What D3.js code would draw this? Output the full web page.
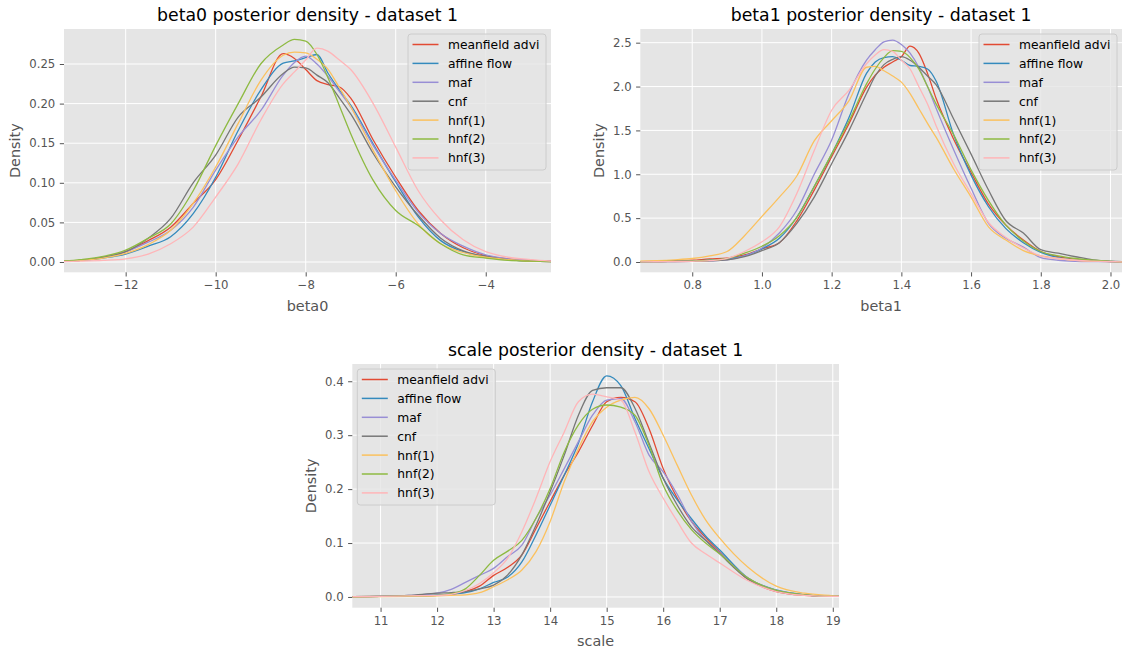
<!DOCTYPE html>
<html lang="en">
<head>
    <meta charset="UTF-8">
    <title>Posterior densities - dataset 1</title>
    <style>
        body { margin: 0; background: #fff; }
        svg text { font-family: "DejaVu Sans", sans-serif; }
    </style>
</head>
<body>
    <svg id="fig" width="1125" height="654"></svg>

    <script src="https://d3js.org/d3.v7.min.js"></script>
    <script>
        // series shared by all three panels
        var seriesNames = ["meanfield advi", "affine flow", "maf", "cnf", "hnf(1)", "hnf(2)", "hnf(3)"];
        var seriesColors = ["#E24A33", "#348ABD", "#988ED5", "#777777", "#FBC15E", "#8EBA42", "#FFB5B8"];

        // beta0 panel
        var beta0X = [-13.4, -13, -12.5, -12, -11.5, -11, -10.5, -10, -9.5, -9, -8.5, -8.25, -8, -7.75, -7.5, -7.25, -7, -6.5, -6, -5.5, -5, -4.5, -4, -3.5, -3, -2.5];
        var beta0Meanfield = [0.001, 0.002, 0.006, 0.013, 0.027, 0.044, 0.074, 0.104, 0.154, 0.208, 0.263, 0.257, 0.243, 0.229, 0.224, 0.221, 0.207, 0.154, 0.107, 0.065, 0.036, 0.018, 0.008, 0.004, 0.002, 0.001];
        var beta0Affine = [0.001, 0.002, 0.005, 0.010, 0.020, 0.032, 0.061, 0.107, 0.166, 0.217, 0.251, 0.254, 0.258, 0.262, 0.238, 0.217, 0.198, 0.149, 0.101, 0.057, 0.027, 0.013, 0.007, 0.003, 0.001, 0.0005];
        var beta0Maf = [0.001, 0.002, 0.006, 0.013, 0.025, 0.040, 0.069, 0.116, 0.158, 0.191, 0.236, 0.252, 0.260, 0.250, 0.234, 0.215, 0.196, 0.147, 0.103, 0.063, 0.036, 0.020, 0.009, 0.004, 0.002, 0.001];
        var beta0Cnf = [0.001, 0.002, 0.006, 0.013, 0.030, 0.055, 0.100, 0.135, 0.183, 0.208, 0.238, 0.246, 0.245, 0.236, 0.226, 0.207, 0.187, 0.137, 0.095, 0.059, 0.030, 0.014, 0.007, 0.003, 0.001, 0.0005];
        var beta0Hnf1 = [0.001, 0.002, 0.005, 0.011, 0.022, 0.040, 0.074, 0.120, 0.175, 0.229, 0.261, 0.265, 0.264, 0.256, 0.243, 0.220, 0.196, 0.141, 0.090, 0.048, 0.023, 0.012, 0.006, 0.003, 0.001, 0.0005];
        var beta0Hnf2 = [0.001, 0.003, 0.007, 0.015, 0.030, 0.048, 0.090, 0.147, 0.200, 0.250, 0.274, 0.281, 0.279, 0.262, 0.232, 0.197, 0.162, 0.103, 0.065, 0.046, 0.023, 0.009, 0.005, 0.002, 0.001, 0.0005];
        var beta0Hnf3 = [0.0005, 0.001, 0.002, 0.004, 0.010, 0.023, 0.044, 0.082, 0.124, 0.179, 0.225, 0.240, 0.255, 0.270, 0.266, 0.255, 0.243, 0.200, 0.145, 0.090, 0.053, 0.028, 0.013, 0.006, 0.003, 0.001];
        var beta0XTicks = [-12, -10, -8, -6, -4];
        var beta0YTicks = [0, 0.05, 0.10, 0.15, 0.20, 0.25];

        // beta1 panel
        var beta1X = [0.65, 0.7, 0.75, 0.8, 0.85, 0.9, 0.95, 1.0, 1.05, 1.1, 1.15, 1.2, 1.25, 1.3, 1.325, 1.35, 1.375, 1.4, 1.425, 1.45, 1.475, 1.5, 1.55, 1.6, 1.65, 1.7, 1.75, 1.8, 1.85, 1.9, 1.95, 2.0, 2.035];
        var beta1Meanfield = [0.005, 0.008, 0.012, 0.02, 0.035, 0.045, 0.08, 0.15, 0.22, 0.47, 0.82, 1.2, 1.58, 1.99, 2.13, 2.22, 2.28, 2.34, 2.46, 2.38, 2.15, 1.86, 1.40, 1.02, 0.66, 0.42, 0.25, 0.12, 0.06, 0.03, 0.015, 0.005, 0.003];
        var beta1Affine = [0.003, 0.005, 0.008, 0.012, 0.02, 0.035, 0.07, 0.15, 0.27, 0.51, 0.86, 1.23, 1.65, 2.15, 2.28, 2.33, 2.34, 2.30, 2.24, 2.23, 2.20, 2.06, 1.45, 0.99, 0.63, 0.38, 0.22, 0.11, 0.05, 0.025, 0.012, 0.005, 0.003];
        var beta1Maf = [0.002, 0.003, 0.005, 0.008, 0.012, 0.025, 0.07, 0.16, 0.33, 0.59, 1.0, 1.39, 1.92, 2.3, 2.42, 2.51, 2.53, 2.48, 2.38, 2.22, 2.0, 1.75, 1.28, 0.84, 0.44, 0.27, 0.17, 0.05, 0.02, 0.008, 0.004, 0.002, 0.001];
        var beta1Cnf = [0.002, 0.003, 0.005, 0.008, 0.012, 0.025, 0.06, 0.13, 0.22, 0.44, 0.74, 1.12, 1.5, 1.92, 2.12, 2.25, 2.31, 2.34, 2.30, 2.22, 2.12, 2.02, 1.63, 1.23, 0.82, 0.47, 0.33, 0.14, 0.10, 0.06, 0.025, 0.01, 0.005];
        var beta1Hnf1 = [0.01, 0.015, 0.025, 0.04, 0.07, 0.12, 0.3, 0.52, 0.74, 0.98, 1.38, 1.61, 1.84, 2.22, 2.23, 2.18, 2.12, 2.05, 1.92, 1.75, 1.58, 1.42, 1.06, 0.74, 0.40, 0.25, 0.13, 0.07, 0.04, 0.02, 0.01, 0.005, 0.003];
        var beta1Hnf2 = [0.003, 0.005, 0.008, 0.012, 0.02, 0.04, 0.1, 0.18, 0.30, 0.51, 0.86, 1.23, 1.61, 2.03, 2.2, 2.33, 2.41, 2.40, 2.33, 2.2, 2.0, 1.8, 1.45, 1.05, 0.7, 0.42, 0.24, 0.12, 0.07, 0.04, 0.02, 0.008, 0.004];
        var beta1Hnf3 = [0.002, 0.003, 0.005, 0.008, 0.015, 0.04, 0.12, 0.23, 0.40, 0.78, 1.27, 1.73, 1.96, 2.26, 2.36, 2.42, 2.40, 2.30, 2.20, 2.0, 1.8, 1.55, 1.12, 0.78, 0.45, 0.28, 0.16, 0.07, 0.04, 0.02, 0.01, 0.004, 0.002];
        var beta1XTicks = [0.8, 1.0, 1.2, 1.4, 1.6, 1.8, 2.0];
        var beta1YTicks = [0, 0.5, 1.0, 1.5, 2.0, 2.5];

        // scale panel
        var scaleX = [10.5, 11, 11.5, 12, 12.25, 12.5, 12.75, 13, 13.25, 13.5, 13.75, 14, 14.25, 14.5, 14.75, 15, 15.25, 15.5, 15.75, 16, 16.25, 16.5, 16.75, 17, 17.5, 18, 18.5, 19, 19.11];
        var scaleMeanfield = [0.0005, 0.001, 0.002, 0.003, 0.005, 0.01, 0.02, 0.04, 0.055, 0.078, 0.127, 0.177, 0.226, 0.269, 0.318, 0.362, 0.370, 0.362, 0.312, 0.238, 0.183, 0.140, 0.110, 0.083, 0.033, 0.010, 0.003, 0.001, 0.001];
        var scaleAffine = [0.0005, 0.001, 0.002, 0.004, 0.005, 0.008, 0.015, 0.027, 0.037, 0.065, 0.115, 0.170, 0.226, 0.285, 0.362, 0.410, 0.392, 0.331, 0.275, 0.220, 0.180, 0.145, 0.113, 0.087, 0.035, 0.013, 0.004, 0.001, 0.001];
        var scaleMaf = [0.0005, 0.001, 0.003, 0.007, 0.014, 0.027, 0.040, 0.053, 0.075, 0.096, 0.146, 0.189, 0.238, 0.288, 0.337, 0.365, 0.368, 0.325, 0.263, 0.232, 0.190, 0.140, 0.105, 0.082, 0.035, 0.012, 0.004, 0.001, 0.001];
        var scaleCnf = [0.0005, 0.001, 0.003, 0.007, 0.008, 0.010, 0.015, 0.022, 0.041, 0.078, 0.133, 0.195, 0.263, 0.337, 0.383, 0.388, 0.388, 0.350, 0.285, 0.220, 0.170, 0.130, 0.105, 0.080, 0.033, 0.011, 0.004, 0.001, 0.001];
        var scaleHnf1 = [0.0003, 0.0005, 0.001, 0.002, 0.003, 0.004, 0.008, 0.019, 0.032, 0.050, 0.084, 0.140, 0.214, 0.275, 0.325, 0.352, 0.365, 0.370, 0.349, 0.300, 0.244, 0.189, 0.143, 0.109, 0.055, 0.020, 0.007, 0.002, 0.001];
        var scaleHnf2 = [0.0005, 0.001, 0.002, 0.003, 0.006, 0.015, 0.040, 0.068, 0.085, 0.105, 0.146, 0.201, 0.269, 0.319, 0.348, 0.356, 0.352, 0.337, 0.281, 0.207, 0.160, 0.125, 0.100, 0.080, 0.035, 0.012, 0.004, 0.001, 0.001];
        var scaleHnf3 = [0.0005, 0.001, 0.002, 0.003, 0.005, 0.012, 0.025, 0.045, 0.072, 0.121, 0.183, 0.251, 0.306, 0.362, 0.376, 0.371, 0.365, 0.306, 0.232, 0.183, 0.140, 0.100, 0.080, 0.063, 0.030, 0.010, 0.003, 0.001, 0.001];
        var scaleXTicks = [11, 12, 13, 14, 15, 16, 17, 18, 19];
        var scaleYTicks = [0, 0.1, 0.2, 0.3, 0.4];

        var svg = d3.select("#fig");
        var tickColor = "#555555";

        function drawPanel(p) {
            var x = d3.scaleLinear().domain(p.xlim).range([p.left, p.right]);
            var y = d3.scaleLinear().domain(p.ylim).range([p.bottom, p.top]);
            var g = svg.append("g");

            g.append("rect")
                .attr("x", p.left).attr("y", p.top)
                .attr("width", p.right - p.left).attr("height", p.bottom - p.top)
                .attr("fill", "#E5E5E5");

            // grid
            g.selectAll(".vgrid").data(p.xticks).enter().append("line")
                .attr("x1", function(d) { return x(d); }).attr("x2", function(d) { return x(d); })
                .attr("y1", p.top).attr("y2", p.bottom)
                .attr("stroke", "#fff").attr("stroke-width", 1);
            g.selectAll(".hgrid").data(p.yticks).enter().append("line")
                .attr("y1", function(d) { return y(d); }).attr("y2", function(d) { return y(d); })
                .attr("x1", p.left).attr("x2", p.right)
                .attr("stroke", "#fff").attr("stroke-width", 1);

            // axes (outward ticks, matplotlib style)
            var xAxis = g.append("g").attr("transform", "translate(0," + p.bottom + ")")
                .call(d3.axisBottom(x).tickValues(p.xticks).tickFormat(p.xfmt).tickSize(4.2).tickPadding(4.5));
            var yAxis = g.append("g").attr("transform", "translate(" + p.left + ",0)")
                .call(d3.axisLeft(y).tickValues(p.yticks).tickFormat(p.yfmt).tickSize(4.2).tickPadding(4.5));
            [xAxis, yAxis].forEach(function(a) {
                a.select(".domain").remove();
                a.selectAll(".tick line").attr("stroke", tickColor);
                a.selectAll(".tick text").attr("fill", tickColor)
                    .style("font-size", "11.7px").style("font-family", "DejaVu Sans");
            });

            // curves
            var clipId = "clip" + p.id;
            svg.append("clipPath").attr("id", clipId).append("rect")
                .attr("x", p.left).attr("y", p.top)
                .attr("width", p.right - p.left).attr("height", p.bottom - p.top);

            var line = d3.line()
                .x(function(d) { return x(d[0]); })
                .y(function(d) { return y(d[1]); })
                .curve(d3.curveMonotoneX);

            p.series.forEach(function(vals, i) {
                g.append("path")
                    .datum(p.xs.map(function(v, j) { return [v, vals[j]]; }))
                    .attr("clip-path", "url(#" + clipId + ")")
                    .attr("fill", "none")
                    .attr("stroke", seriesColors[i])
                    .attr("stroke-width", 1.3)
                    .attr("d", line);
            });

            // title and labels
            g.append("text")
                .attr("x", (p.left + p.right) / 2).attr("y", p.top - 8.5)
                .attr("text-anchor", "middle")
                .style("font-size", "17.3px").attr("fill", "#000")
                .text(p.title);
            g.append("text")
                .attr("x", (p.left + p.right) / 2).attr("y", p.bottom + 38.5)
                .attr("text-anchor", "middle")
                .style("font-size", "14.4px").attr("fill", tickColor)
                .text(p.xlabel);

            var maxW = 0;
            yAxis.selectAll(".tick text").each(function() {
                maxW = Math.max(maxW, this.getComputedTextLength());
            });
            var lx = p.left - 8.7 - maxW - 9;
            g.append("text")
                .attr("transform", "translate(" + lx + "," + ((p.top + p.bottom) / 2) + ") rotate(-90)")
                .attr("text-anchor", "middle")
                .style("font-size", "14.4px").attr("fill", tickColor)
                .text("Density");

            // legend
            var lw = 138, lh = 136;
            var lx0 = p.legendLeft ? p.left + 5 : p.right - 5 - lw;
            var ly0 = p.top + 5;
            var leg = g.append("g").attr("transform", "translate(" + lx0 + "," + ly0 + ")");
            leg.append("rect")
                .attr("width", lw).attr("height", lh).attr("rx", 3)
                .attr("fill", "#E5E5E5").attr("fill-opacity", 0.8)
                .attr("stroke", "#CCCCCC").attr("stroke-width", 1);
            seriesNames.forEach(function(name, i) {
                var ry = 10.5 + i * 18.9;
                leg.append("line")
                    .attr("x1", 4.5).attr("x2", 30.5).attr("y1", ry).attr("y2", ry)
                    .attr("stroke", seriesColors[i]).attr("stroke-width", 1.5);
                leg.append("text")
                    .attr("x", 40).attr("y", ry + 4.4)
                    .style("font-size", "12.3px").attr("fill", "#000")
                    .text(name);
            });
        }

        var minus = function(f) {
            return function(d) { return f(d).replace("-", "\u2212"); };
        };

        drawPanel({
            id: "A", left: 64, right: 551, top: 29, bottom: 272.3,
            xlim: [-13.37, -2.55], ylim: [-0.013, 0.2942],
            xticks: beta0XTicks, yticks: beta0YTicks,
            xfmt: minus(d3.format("d")), yfmt: d3.format(".2f"),
            xs: beta0X,
            series: [beta0Meanfield, beta0Affine, beta0Maf, beta0Cnf, beta0Hnf1, beta0Hnf2, beta0Hnf3],
            title: "beta0 posterior density - dataset 1", xlabel: "beta0", legendLeft: false
        });

        drawPanel({
            id: "B", left: 640.3, right: 1122, top: 29, bottom: 272.3,
            xlim: [0.651, 2.033], ylim: [-0.1174, 2.656],
            xticks: beta1XTicks, yticks: beta1YTicks,
            xfmt: d3.format(".1f"), yfmt: d3.format(".1f"),
            xs: beta1X,
            series: [beta1Meanfield, beta1Affine, beta1Maf, beta1Cnf, beta1Hnf1, beta1Hnf2, beta1Hnf3],
            title: "beta1 posterior density - dataset 1", xlabel: "beta1", legendLeft: false
        });

        drawPanel({
            id: "C", left: 352.3, right: 839, top: 364, bottom: 607.7,
            xlim: [10.50, 19.11], ylim: [-0.0199, 0.432],
            xticks: scaleXTicks, yticks: scaleYTicks,
            xfmt: d3.format("d"), yfmt: d3.format(".1f"),
            xs: scaleX,
            series: [scaleMeanfield, scaleAffine, scaleMaf, scaleCnf, scaleHnf1, scaleHnf2, scaleHnf3],
            title: "scale posterior density - dataset 1", xlabel: "scale", legendLeft: true
        });
    </script>
</body>
</html>
